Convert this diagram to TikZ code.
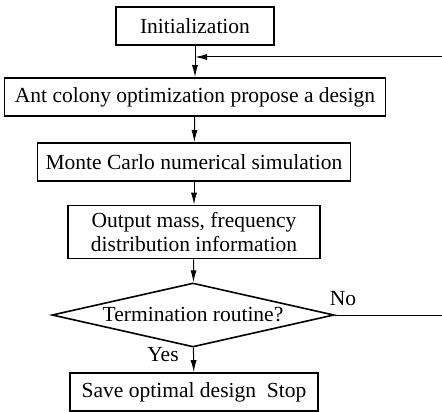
\documentclass[tikz,border=0pt]{standalone}
\usepackage{fontspec}
\setmainfont{Liberation Serif}
\usepackage{tikz}
\usetikzlibrary{shapes,arrows.meta}

\tikzset{
  box/.style={draw, line width=1.6pt, minimum height=38, inner sep=0pt},
  flow/.style={line width=1pt, -{Latex[length=12pt,width=6pt]}}
}

\begin{document}
\begin{tikzpicture}[x=1pt,y=1pt,font=\fontsize{21.5}{24}\selectfont]
            \useasboundingbox (0,0) rectangle (442,-412);
            \node[box, minimum width=158] (init) at (195,-26) {Initialization};
            \node[box, minimum width=381] (aco) at (195,-97) {Ant colony optimization propose a design};
            \node[box, minimum width=313] (mc) at (194,-162) {Monte Carlo numerical simulation};
            \node[box, minimum height=53, minimum width=252, align=center] (out) at (194,-232)
                  {Output mass, frequency\\distribution information};
            \node[draw, diamond, line width=1.6pt, aspect=4.4, inner sep=0pt,
                  minimum width=282, minimum height=64] (term) at (193,-315) {Termination routine?};
            \node[box, minimum width=248] (save) at (194,-392) {Save optimal design\ \ Stop};
            \coordinate (join) at (195,-57);
            \coordinate (back) at (450,-315);
            \draw [flow] (init) -- (aco);
            \draw [flow] (aco) -- (mc);
            \draw [flow] (mc) -- (out);
            \draw [flow] (out) -- (term);
            \draw [flow] (term) -- (save);
            \draw [flow] (term.east) -- (back) |- (join);
            \node (no) at (343,-299) {No};
            \node (yes) at (163,-355) {Yes};
\end{tikzpicture}
\end{document}
